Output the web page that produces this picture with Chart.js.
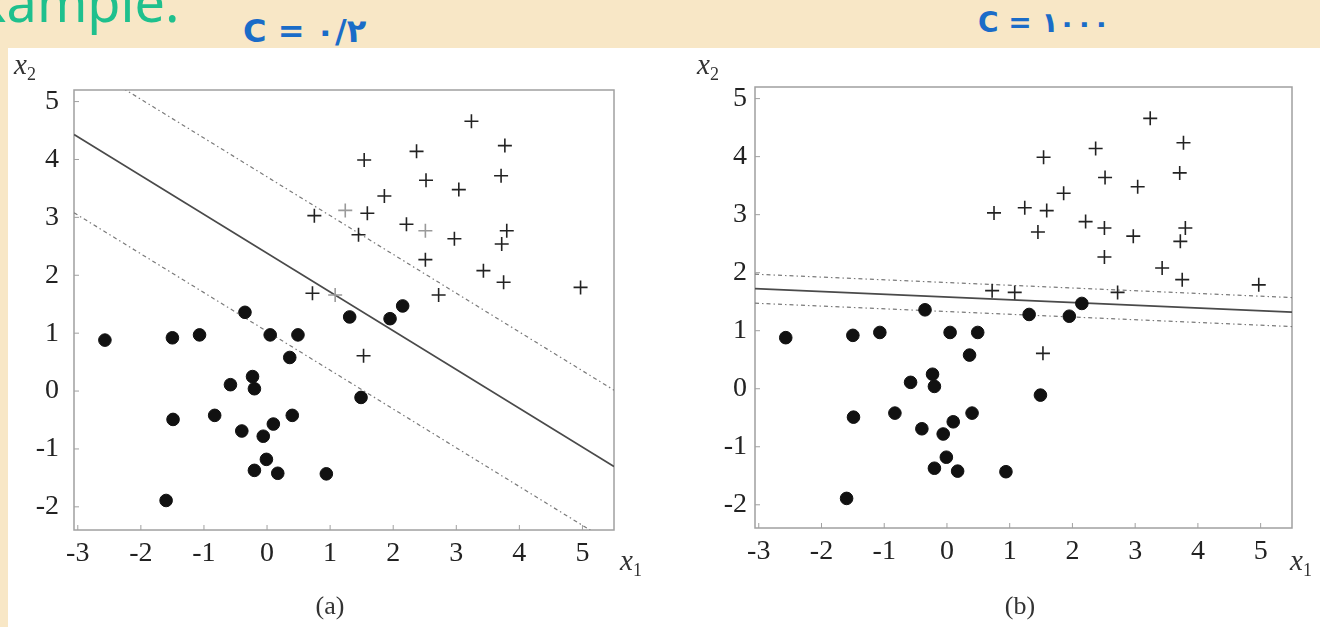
<!DOCTYPE html>
<html>
<head>
<meta charset="utf-8">
<script src="https://cdn.jsdelivr.net/npm/chart.js@4.4.0/dist/chart.umd.min.js"></script>
<style>
  body { margin: 0; width: 1320px; height: 627px; overflow: hidden; position: relative;
    background: #f8e7c6; font-family: "Liberation Serif", serif; }
  #panel { position: absolute; left: 8px; top: 48px; width: 1312px; height: 579px; background: #fff; }
  canvas { position: absolute; top: 48px; }
  #chartA { left: 8px; }
  #chartB { left: 662px; }
  .head { position: absolute; left: -52px; top: -36px; font-family: "Noto Sans", sans-serif;
    font-size: 54px; color: #1fc08d; white-space: nowrap; }
  .hand { position: absolute; font-family: "DejaVu Sans", sans-serif; font-weight: bold;
    color: #1a6cc8; white-space: nowrap; }
  .lab { position: absolute; font-style: italic; font-size: 29px; color: #333; white-space: nowrap; }
  .lab sub { font-style: normal; font-size: 18px; vertical-align: -6px; }
  .cap { position: absolute; font-size: 26px; color: #333; transform: translateX(-50%); }
</style>
</head>
<body>
<div class="head">Example:</div>
<div class="hand" style="left:243px; top:12px; font-size:32px;">C = ۰/۲</div>
<div class="hand" style="left:978px; top:6px; font-size:28px;">C = ۱۰۰۰</div>
<div id="panel"></div>
<canvas id="chartA" width="650" height="579"></canvas>
<canvas id="chartB" width="658" height="579"></canvas>
<div class="lab" style="left:14px; top:48px;">x<sub>2</sub></div>
<div class="lab" style="left:697px; top:48px;">x<sub>2</sub></div>
<div class="lab" style="left:620px; top:544px;">x<sub>1</sub></div>
<div class="lab" style="left:1290px; top:544px;">x<sub>1</sub></div>
<div class="cap" style="left:330px; top:591px;">(a)</div>
<div class="cap" style="left:1020px; top:591px;">(b)</div>
<script>
// class -1 points (filled dots)
var circleX = [-2.57, -1.5, -1.07, -0.35, 0.05, 0.49, 0.36, 1.31, 1.95, 2.15, -1.49, -0.58, -0.23, -0.2, -0.83, -0.4, -0.06, 0.1, 0.4, -0.2, -0.01, 0.17, 0.94, -1.6, 1.49];
var circleY = [0.88, 0.92, 0.97, 1.36, 0.97, 0.97, 0.58, 1.28, 1.25, 1.47, -0.49, 0.11, 0.25, 0.04, -0.42, -0.69, -0.78, -0.57, -0.42, -1.37, -1.18, -1.42, -1.43, -1.89, -0.11];
// class +1 points (crosses)
var plusX = [3.24, 3.77, 2.37, 1.54, 2.52, 3.04, 3.71, 1.86, 0.75, 1.24, 1.59, 1.45, 2.21, 2.51, 2.97, 3.80, 3.72, 2.51, 3.43, 3.75, 4.97, 0.72, 1.08, 2.72, 1.53];
var plusY = [4.66, 4.24, 4.14, 3.99, 3.64, 3.48, 3.72, 3.37, 3.03, 3.12, 3.07, 2.70, 2.88, 2.77, 2.63, 2.77, 2.54, 2.27, 2.08, 1.88, 1.79, 1.69, 1.66, 1.66, 0.61];
var grayPlusA = [9, 13, 22];

// separating line and margins: y = intercept + slope * x  (upper, middle, lower)
var slopeA = -0.67;
var interceptsA = [3.70, 2.38, 1.03];
var slopeB = -0.047;
var interceptsB = [1.83, 1.58, 1.33];

var xTicks = [-3, -2, -1, 0, 1, 2, 3, 4, 5];
var yTicks = [-2, -1, 0, 1, 2, 3, 4, 5];
var xMin = -3.06, xMax = 5.5, yMin = -2.4, yMax = 5.2;

var zip = function (xs, ys) {
  return xs.map(function (x, i) { return { x: x, y: ys[i] }; });
};

var lineSet = function (slope, b, dashed) {
  return {
    type: 'line',
    data: [xMin, xMax].map(function (x) { return { x: x, y: b + slope * x }; }),
    showLine: true,
    pointRadius: 0,
    borderColor: dashed ? '#7a7a7a' : '#4a4a4a',
    borderWidth: dashed ? 1.2 : 1.7,
    borderDash: dashed ? [4, 3, 1.5, 3] : []
  };
};

var framePlugin = {
  id: 'frame',
  beforeDatasetsDraw: function (chart) {
    var ctx = chart.ctx, a = chart.chartArea;
    var sx = chart.scales.x, sy = chart.scales.y;
    ctx.save();
    ctx.strokeStyle = '#a0a0a0';
    ctx.lineWidth = 1.5;
    ctx.strokeRect(a.left, a.top, a.right - a.left, a.bottom - a.top);
    ctx.lineWidth = 1;
    ctx.beginPath();
    xTicks.forEach(function (v) {
      var p = sx.getPixelForValue(v);
      ctx.moveTo(p, a.bottom); ctx.lineTo(p, a.bottom - 5);
    });
    yTicks.forEach(function (v) {
      var p = sy.getPixelForValue(v);
      ctx.moveTo(a.left, p); ctx.lineTo(a.left + 5, p);
    });
    ctx.stroke();
    ctx.restore();
  }
};

var makeChart = function (id, opts) {
  var plusColors = plusX.map(function (x, i) {
    return opts.gray.indexOf(i) >= 0 ? '#9a9a9a' : '#222';
  });
  var datasets = [
    {
      data: zip(circleX, circleY),
      pointStyle: 'circle',
      pointRadius: 6.3,
      backgroundColor: '#111',
      borderColor: '#111'
    },
    {
      data: zip(plusX, plusY),
      pointStyle: 'cross',
      pointRadius: 7,
      pointBorderWidth: 1.6,
      borderColor: plusColors,
      pointBorderColor: plusColors
    }
  ];
  opts.intercepts.forEach(function (b, i) {
    datasets.push(lineSet(opts.slope, b, i !== 1));
  });

  new Chart(document.getElementById(id).getContext('2d'), {
    type: 'scatter',
    data: { datasets: datasets },
    plugins: [framePlugin],
    options: {
      responsive: false,
      animation: false,
      layout: { padding: { top: opts.top, right: opts.right, left: 0, bottom: 0 } },
      plugins: { legend: { display: false }, tooltip: { enabled: false } },
      scales: {
        x: {
          type: 'linear', min: xMin, max: xMax,
          grid: { display: false, drawTicks: false },
          border: { display: false },
          afterBuildTicks: function (s) { s.ticks = xTicks.map(function (v) { return { value: v }; }); },
          afterFit: function (s) { s.height = opts.xh; },
          ticks: { padding: 7, color: '#222', font: { family: 'Liberation Serif', size: 28 } }
        },
        y: {
          type: 'linear', min: yMin, max: yMax,
          grid: { display: false, drawTicks: false },
          border: { display: false },
          afterBuildTicks: function (s) { s.ticks = yTicks.map(function (v) { return { value: v }; }); },
          afterFit: function (s) { s.width = opts.yw; },
          ticks: { padding: opts.ypad, color: '#222', font: { family: 'Liberation Serif', size: 28 } }
        }
      }
    }
  });
};

makeChart('chartA', { slope: slopeA, intercepts: interceptsA, gray: grayPlusA, top: 42, right: 44, xh: 97, yw: 66, ypad: 15 });
makeChart('chartB', { slope: slopeB, intercepts: interceptsB, gray: [], top: 39, right: 28, xh: 99, yw: 93, ypad: 8 });
</script>
</body>
</html>
